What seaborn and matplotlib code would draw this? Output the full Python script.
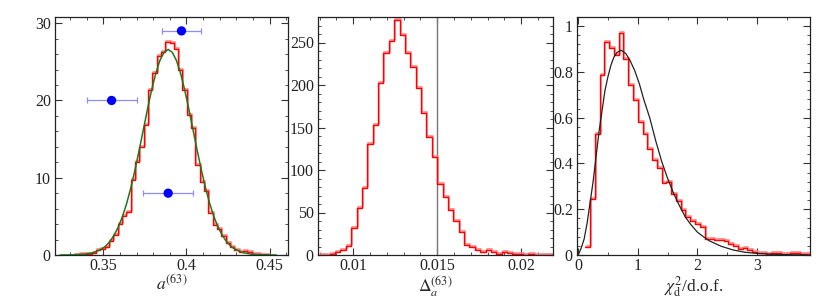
import numpy as np
import pandas as pd
import matplotlib
matplotlib.use("Agg")
import matplotlib.pyplot as plt
import matplotlib.transforms as mtrans
from matplotlib.ticker import MultipleLocator
import seaborn as sns

# ---------------- data ----------------
# Panel 1: histogram of a^(63) (density), bins of width 0.0026 starting at 0.3326
a_bin_start = 0.3326
a_bin_width = 0.0026
a_hist = [0.05, 0.08, 0.10, 0.15, 0.30, 0.70, 0.80, 1.1, 1.8, 2.6, 4.0, 5.0, 5.6,
          9.7, 12.1, 14.0, 16.8, 21.4, 23.5, 25.7, 26.3, 27.6, 27.5, 26.6, 24.0,
          21.4, 18.1, 16.4, 11.7, 9.4, 8.3, 5.5, 3.9,
          3.3, 2.4, 1.6, 1.0, 0.7, 0.4, 0.5, 0.4, 0.1, 0.1, 0.05, 0.05]
# Gaussian fit curve
a_curve_x = [0.324, 0.3315, 0.339, 0.344, 0.349, 0.3515, 0.354, 0.3565, 0.359, 0.3615,
             0.364, 0.3665, 0.369, 0.3715, 0.374, 0.3765, 0.379, 0.3815, 0.384, 0.3865,
             0.389, 0.3915, 0.394, 0.3965, 0.399, 0.4015, 0.404, 0.4065, 0.409, 0.4115,
             0.414, 0.4165, 0.419, 0.4215, 0.424, 0.4265, 0.429, 0.434, 0.439, 0.4465, 0.454]
a_curve_y = [0.0, 0.02, 0.10, 0.30, 0.76, 1.17, 1.75, 2.55, 3.60, 4.95,
             6.63, 8.64, 10.94, 13.47, 16.13, 18.80, 21.30, 23.47, 25.16, 26.23,
             26.6, 26.23, 25.16, 23.47, 21.30, 18.80, 16.13, 13.47, 10.94, 8.64,
             6.63, 4.95, 3.60, 2.55, 1.75, 1.17, 0.76, 0.30, 0.10, 0.02, 0.0]
# blue points with horizontal error bars
pt_x = [0.397, 0.355, 0.389]
pt_y = [29, 20, 8]
pt_xerr = [0.0118, 0.015, 0.015]

# Panel 2: histogram of Delta_a^(63) (counts), bins of width 0.00032 aligned at 0.015
d_bin_start = 0.015 - 22 * 0.00032
d_bin_width = 0.00032
d_hist = [0, 0.3, 1.5, 3, 6, 11, 32, 55, 79, 131, 153, 202, 238, 252, 277, 259, 238,
          221, 197, 167, 139, 115, 84, 68, 53.5, 40, 26.5, 12, 10, 6, 4, 6, 3, 1,
          3, 2, 1, 1, 0.5, 1, 0.5, 0.3, 0.3, 0.3]
d_ref_line = 0.015

# Panel 3: histogram of chi2_d / d.o.f. (density), bins of width 0.08 from 0.12
c_bin_start = 0.12
c_bin_width = 0.08
c_hist = [0.033, 0.246, 0.529, 0.786, 0.932, 0.906, 0.875, 0.971, 0.855, 0.742,
          0.676, 0.580, 0.527, 0.464, 0.414, 0.382, 0.315, 0.320, 0.265, 0.235,
          0.197, 0.167, 0.150, 0.135, 0.122, 0.070, 0.068, 0.065, 0.065, 0.060,
          0.047, 0.040, 0.025, 0.030, 0.022, 0.012, 0.008, 0.008, 0.005, 0.010,
          0.010, 0.005, 0.004, 0.008, 0.008, 0.004, 0.003]
c_curve_x = [0.0, 0.05, 0.1, 0.15, 0.2, 0.25, 0.3, 0.35, 0.4, 0.45, 0.5, 0.55, 0.6,
             0.65, 0.72, 0.8, 0.87, 0.95, 1.03, 1.1, 1.2, 1.3, 1.4, 1.5, 1.6, 1.7,
             1.8, 1.9, 2.0, 2.1, 2.2, 2.4, 2.6, 2.8, 3.0, 3.2, 3.4, 3.6, 3.85]
c_curve_y = [0.0, 0.03, 0.07, 0.14, 0.23, 0.32, 0.43, 0.54, 0.63, 0.72, 0.78, 0.83,
             0.865, 0.885, 0.895, 0.88, 0.85, 0.805, 0.745, 0.68, 0.60, 0.50, 0.41,
             0.335, 0.27, 0.215, 0.165, 0.13, 0.10, 0.08, 0.062, 0.038, 0.022, 0.012,
             0.007, 0.004, 0.002, 0.001, 0.0005]

# ---------------- style ----------------
sns.set_theme(style="white")
plt.rcParams["font.family"] = ["Liberation Serif", "DejaVu Serif"]
plt.rcParams["mathtext.fontset"] = "stix"
plt.rcParams["font.size"] = 11.5

fig = plt.figure(figsize=(8.3, 3.02), dpi=100)
W, H = 830, 302
def add_axes(l, r, t=17, b=255):
    return fig.add_axes([l / W, (H - b) / H, (r - l) / W, (b - t) / H])

ax1 = add_axes(55, 288)
ax2 = add_axes(318, 553)
ax3 = add_axes(577, 810)


def step_hist(ax, start, width, heights):
    n = len(heights)
    edges = [float(e) for e in start + width * np.arange(n + 1)]
    centers = [(edges[i] + edges[i + 1]) / 2 for i in range(n)]
    df = pd.DataFrame({"x": centers, "w": heights})
    # light shadow copy, slightly offset
    before = set(ax.get_children())
    sns.histplot(data=df, x="x", weights="w", bins=edges, element="step",
                 fill=False, color="#ff8484", linewidth=1.2, ax=ax)
    off = mtrans.offset_copy(ax.transData, fig=fig, x=1.0, y=1.0, units="dots")
    for art in ax.get_children():
        if art not in before:
            try:
                art.set_transform(off)
            except Exception:
                pass
    sns.histplot(data=df, x="x", weights="w", bins=edges, element="step",
                 fill=False, color="#ff0000", linewidth=1.0, ax=ax)


def finish(ax, xlim, ylim, xmaj, xmin, ymaj, ymin, xlabel):
    ax.set_xlim(*xlim)
    ax.set_ylim(*ylim)
    ax.xaxis.set_major_locator(MultipleLocator(xmaj))
    ax.xaxis.set_minor_locator(MultipleLocator(xmin))
    ax.yaxis.set_major_locator(MultipleLocator(ymaj))
    ax.yaxis.set_minor_locator(MultipleLocator(ymin))
    ax.tick_params(which="both", direction="in", top=True, bottom=True,
                   left=True, right=True, color="#333333")
    ax.tick_params(which="major", length=5, width=0.8, labelsize=11.5,
                   labelcolor="#222222")
    ax.tick_params(which="minor", length=2.5, width=0.6)
    ax.tick_params(axis="x", which="major", pad=2)
    ax.tick_params(axis="y", which="major", pad=3)
    ax.set_xlabel(xlabel, fontsize=12.5, labelpad=0)
    ax.set_ylabel("")
    for s in ax.spines.values():
        s.set_color("#222222")
        s.set_linewidth(0.9)


# Panel 1
step_hist(ax1, a_bin_start, a_bin_width, a_hist)
sns.lineplot(x=a_curve_x, y=a_curve_y, color="#1a7a1a", linewidth=1.1, ax=ax1)
ax1.errorbar(pt_x, pt_y, xerr=pt_xerr, fmt="none", ecolor="#8c8cff",
             elinewidth=0.9, capsize=2, capthick=0.9, zorder=4)
sns.scatterplot(x=pt_x, y=pt_y, color="#0000ff", s=45, edgecolor="none",
                zorder=5, ax=ax1)
finish(ax1, (0.321, 0.461), (0, 30.8), 0.05, 0.01, 10, 2, r"$a^{(63)}$")
ax1.set_xticks([0.35, 0.4, 0.45])
ax1.set_xticklabels(["0.35", "0.4", "0.45"])

# Panel 2
step_hist(ax2, d_bin_start, d_bin_width, d_hist)
ax2.axvline(d_ref_line, color="#777777", linewidth=1.0, zorder=1)
finish(ax2, (0.0079, 0.0219), (0, 280), 0.005, 0.001, 50, 10, r"$\Delta_a^{(63)}$")
ax2.set_xticks([0.01, 0.015, 0.02])
ax2.set_xticklabels(["0.01", "0.015", "0.02"])

# Panel 3
step_hist(ax3, c_bin_start, c_bin_width, c_hist)
sns.lineplot(x=c_curve_x, y=c_curve_y, color="#222222", linewidth=0.9, ax=ax3)
finish(ax3, (-0.02, 3.89), (0, 1.04), 1, 0.5, 0.2, 0.04,
       r"$\chi^2_{\rm d}$/d.o.f.")
ax3.set_yticks([0, 0.2, 0.4, 0.6, 0.8, 1.0])
ax3.set_yticklabels(["0", "0.2", "0.4", "0.6", "0.8", "1"])
ax3.set_xticks([0, 1, 2, 3])
ax3.set_xticklabels(["0", "1", "2", "3"])

fig.savefig("out.png", dpi=100)
